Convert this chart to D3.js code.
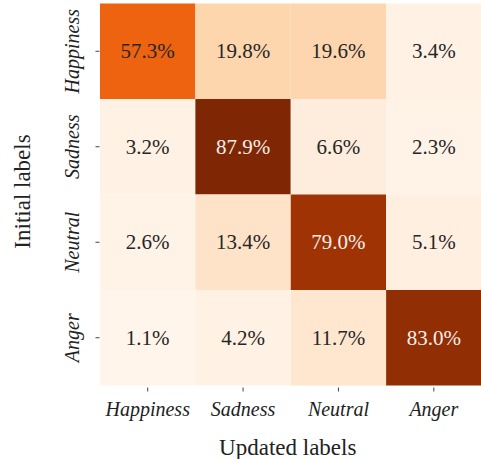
<!DOCTYPE html>
<html>
<head>
<meta charset="utf-8">
<script src="https://cdn.jsdelivr.net/npm/d3@7"></script>
<style>
  body { margin: 0; background: #fff; }
</style>
</head>
<body>
<div id="chart"></div>
<script>
// categories (rows = initial labels, columns = updated labels)
var categories = ["Happiness", "Sadness", "Neutral", "Anger"];

// percentages, one row per initial label
var rowHappiness = [57.3, 19.8, 19.6, 3.4];
var rowSadness   = [3.2, 87.9, 6.6, 2.3];
var rowNeutral   = [2.6, 13.4, 79.0, 5.1];
var rowAnger     = [1.1, 4.2, 11.7, 83.0];
var matrix = [rowHappiness, rowSadness, rowNeutral, rowAnger];

// matplotlib "Oranges" stops
var orangeStops = ["#fff5eb", "#fee6ce", "#fdd0a2", "#fdae6b", "#fd8d3c",
                   "#f16913", "#d94801", "#a63603", "#7f2704"];

var FONT = "'Liberation Serif', 'Times New Roman', Times, 'DejaVu Serif', serif";

var W = 481, H = 459;
var grid = {left: 100, right: 481.5, top: 3.5, bottom: 385.5};

var svg = d3.select("#chart").append("svg")
    .attr("width", W)
    .attr("height", H)
    .attr("font-family", FONT);

var x = d3.scaleBand().domain(categories).range([grid.left, grid.right]);
var y = d3.scaleBand().domain(categories).range([grid.top, grid.bottom]);

var flat = [];
matrix.forEach(function(row, i) {
    row.forEach(function(v, j) {
        flat.push({row: categories[i], col: categories[j], value: v});
    });
});

var vmin = d3.min(flat, function(d) { return d.value; });
var vmax = d3.max(flat, function(d) { return d.value; });

// linear interpolation between the colormap stops, like matplotlib does
var color = d3.scaleLinear()
    .domain(orangeStops.map(function(c, i) { return vmin + (vmax - vmin) * i / (orangeStops.length - 1); }))
    .range(orangeStops)
    .interpolate(d3.interpolateRgb);

// cells
svg.selectAll(".cell")
    .data(flat)
    .enter().append("rect")
    .attr("class", "cell")
    .attr("x", function(d) { return x(d.col); })
    .attr("y", function(d) { return y(d.row); })
    .attr("width", x.bandwidth())
    .attr("height", y.bandwidth())
    .attr("fill", function(d) { return color(d.value); });

// annotations (light text only on the darkest cells)
svg.selectAll(".annot")
    .data(flat)
    .enter().append("text")
    .attr("class", "annot")
    .attr("x", function(d) { return x(d.col) + x.bandwidth() / 2; })
    .attr("y", function(d) { return y(d.row) + y.bandwidth() / 2; })
    .attr("dy", "0.34em")
    .attr("text-anchor", "middle")
    .style("font-family", FONT)
    .style("font-size", "21px")
    .style("fill", function(d) { return (d.value - vmin) / (vmax - vmin) > 0.75 ? "#f5efec" : "#262626"; })
    .text(function(d) { return d.value.toFixed(1) + "%"; });

// x axis
var xAxis = svg.append("g")
    .attr("transform", "translate(0," + (grid.bottom + 2) + ")")
    .call(d3.axisBottom(x).tickSize(4).tickPadding(0));
xAxis.attr("font-family", null).attr("font-size", null);
xAxis.select(".domain").remove();
xAxis.selectAll(".tick line").attr("stroke", "#444").attr("stroke-width", 1);
xAxis.selectAll(".tick text")
    .attr("y", 28.5)
    .attr("dy", 0)
    .style("font-family", FONT)
    .style("font-size", "20px")
    .style("font-style", "italic")
    .style("fill", "#222");

// y axis
var yAxis = svg.append("g")
    .attr("transform", "translate(" + (grid.left - 0.5) + ",0)")
    .call(d3.axisLeft(y).tickSize(4).tickPadding(0));
yAxis.attr("font-family", null).attr("font-size", null);
yAxis.select(".domain").remove();
yAxis.selectAll(".tick line").attr("stroke", "#444").attr("stroke-width", 1);
yAxis.selectAll(".tick text")
    .attr("transform", "rotate(-90)")
    .attr("x", 0)
    .attr("y", -21)
    .attr("dy", 0)
    .attr("text-anchor", "middle")
    .style("font-family", FONT)
    .style("font-size", "20px")
    .style("font-style", "italic")
    .style("fill", "#222");

// axis titles
svg.append("text")
    .attr("x", (grid.left + grid.right) / 2 - 3)
    .attr("y", 455)
    .attr("text-anchor", "middle")
    .style("font-family", FONT)
    .style("font-size", "23px")
    .style("fill", "#222")
    .text("Updated labels");

svg.append("text")
    .attr("transform", "translate(30," + ((grid.top + grid.bottom) / 2 - 3) + ") rotate(-90)")
    .attr("text-anchor", "middle")
    .style("font-family", FONT)
    .style("font-size", "23px")
    .style("fill", "#222")
    .text("Initial labels");
</script>
</body>
</html>
